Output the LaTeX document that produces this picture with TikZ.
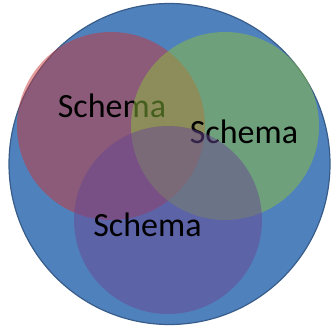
\documentclass[tikz,border=0pt]{standalone}
\usepackage{fontspec}
\setmainfont{Carlito}
\definecolor{bigblue}{RGB}{79,129,189}
\definecolor{bigedge}{HTML}{385D8A}
\definecolor{setred}{RGB}{199,55,55}
\definecolor{setgreen}{RGB}{141,191,61}
\definecolor{setpurple}{RGB}{105,71,147}
\tikzset{
  setcircle/.style={circle, draw=none, minimum size=188pt, inner sep=0pt, fill opacity=0.5},
  setlabel/.style={font=\fontsize{34}{40}\selectfont, text=black, inner sep=0pt, anchor=base}
}
\begin{document}
\begin{tikzpicture}[x=1pt,y=-1pt]
\useasboundingbox (0,0) rectangle (331,326);
\node[circle, minimum size=321pt, inner sep=0pt, fill=bigblue, draw=bigedge, line width=1.2pt] (outer) at (169.5,164) {};
\node[setcircle, fill=setred] (red) at (111,126) {};
\node[setlabel] (redlabel) at (112,117) {Schema};
\node[setcircle, fill=setgreen] (green) at (225,126) {};
\node[setlabel] (greenlabel) at (244,143) {Schema};
\node[setcircle, fill=setpurple] (purple) at (168,220) {};
\node[setlabel] (purplelabel) at (147.5,236) {Schema};
\end{tikzpicture}
\end{document}
